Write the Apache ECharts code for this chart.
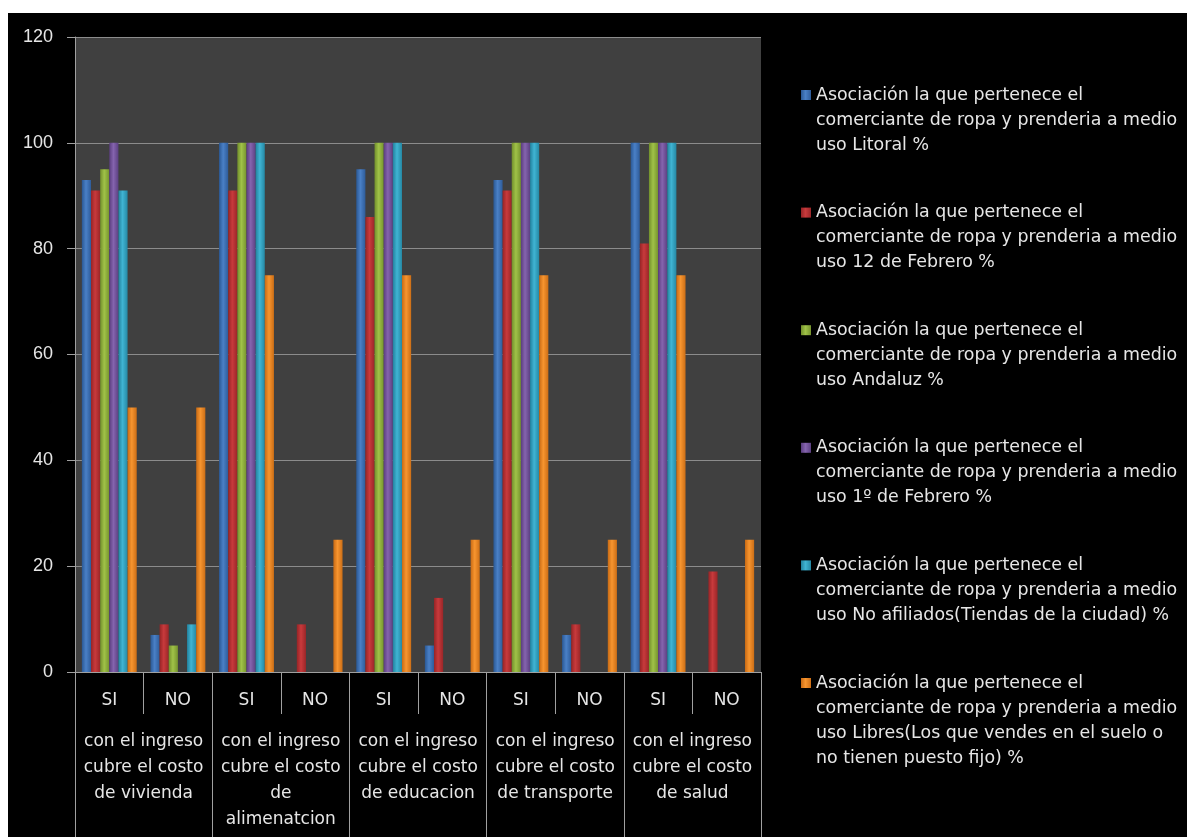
<!DOCTYPE html>
<html>
<head>
<meta charset="utf-8">
<script src="https://cdn.jsdelivr.net/npm/echarts@6/dist/echarts.min.js"></script>
<style>
html,body{margin:0;padding:0;background:#ffffff;width:1187px;height:837px;overflow:hidden;}
#chart{position:absolute;left:8px;top:13px;width:1179px;height:824px;}
</style>
</head>
<body>
<div id="chart"></div>
<script>
// ---- data ----
const subCategories = ['SI','NO','SI','NO','SI','NO','SI','NO','SI','NO'];
const groupLabels = [
  'con el ingreso\ncubre el costo\nde vivienda',
  'con el ingreso\ncubre el costo\nde\nalimenatcion',
  'con el ingreso\ncubre el costo\nde educacion',
  'con el ingreso\ncubre el costo\nde transporte',
  'con el ingreso\ncubre el costo\nde salud'
];
const seriesNames = [
  'Asociación la que pertenece el\ncomerciante de ropa y prenderia a medio\nuso Litoral %',
  'Asociación la que pertenece el\ncomerciante de ropa y prenderia a medio\nuso 12 de Febrero %',
  'Asociación la que pertenece el\ncomerciante de ropa y prenderia a medio\nuso Andaluz %',
  'Asociación la que pertenece el\ncomerciante de ropa y prenderia a medio\nuso 1º de Febrero %',
  'Asociación la que pertenece el\ncomerciante de ropa y prenderia a medio\nuso No afiliados(Tiendas de la ciudad) %',
  'Asociación la que pertenece el\ncomerciante de ropa y prenderia a medio\nuso Libres(Los que vendes en el suelo o\nno tienen puesto fijo) %'
];
const litoral     = [93, 7, 100, 0, 95, 5, 93, 7, 100, 0];
const febrero12   = [91, 9, 91, 9, 86, 14, 91, 9, 81, 19];
const andaluz     = [95, 5, 100, 0, 100, 0, 100, 0, 100, 0];
const febrero1    = [100, 0, 100, 0, 100, 0, 100, 0, 100, 0];
const noAfiliados = [91, 9, 100, 0, 100, 0, 100, 0, 100, 0];
const libres      = [50, 50, 75, 25, 75, 25, 75, 25, 75, 25];
const yTicks = { min: 0, max: 120, interval: 20 };

// ---- styles ----
const palettes = [
  ['#2a5894', '#4a80c6', '#2e5c9a'],
  ['#962426', '#c83a3c', '#9a2628'],
  ['#728f2c', '#a0c248', '#76942e'],
  ['#5a3d7e', '#8564ae', '#5c4082'],
  ['#22829e', '#40b4d3', '#2588a4'],
  ['#c86a14', '#f7952f', '#cc6e16']
];
function grad(p) {
  return new echarts.graphic.LinearGradient(0, 0, 1, 0, [
    { offset: 0, color: p[0] }, { offset: 0.45, color: p[1] }, { offset: 1, color: p[2] }
  ]);
}
const FONT = 'DejaVu Sans';
const TXT = '#e6e6e6';
const LH = 25;
const allData = [litoral, febrero12, andaluz, febrero1, noAfiliados, libres];
const iconCenters = [82, 199.6, 317.2, 434.8, 552.4, 670];

const chart = echarts.init(document.getElementById('chart'));
const legends = seriesNames.map(function (name, i) {
  const n = name.split('\n').length;
  return {
    orient: 'vertical',
    left: 793,
    top: iconCenters[i] - (2 * n - 1) * LH / 2,
    padding: 0,
    itemWidth: 10,
    itemHeight: 10,
    itemGap: 0,
    icon: 'rect',
    selectedMode: false,
    data: [name],
    formatter: function (nm) {
      return '\n'.repeat(n - 1) + nm;
    },
    textStyle: { color: TXT, fontFamily: FONT, fontSize: 17.4, lineHeight: LH }
  };
});

chart.setOption({
  backgroundColor: '#000000',
  animation: false,
  legend: legends,
  grid: {
    left: 67, right: 426, top: 24, bottom: 165,
    show: true, backgroundColor: '#404040', borderWidth: 0
  },
  xAxis: [
    {
      type: 'category', data: subCategories, position: 'bottom',
      axisLine: { show: true, lineStyle: { color: '#a0a0a0', width: 1 } },
      axisTick: { show: true, interval: 0, length: 42, lineStyle: { color: '#a0a0a0' } },
      axisLabel: { color: TXT, fontFamily: FONT, fontSize: 17, margin: 16, lineHeight: LH, interval: 0 },
      splitLine: { show: false }
    },
    {
      type: 'category', data: groupLabels, position: 'bottom',
      axisLine: { show: false },
      axisTick: { show: true, interval: 0, length: 170, lineStyle: { color: '#a0a0a0' } },
      axisLabel: { color: TXT, fontFamily: FONT, fontSize: 17, margin: 57, lineHeight: 26, interval: 0 },
      splitLine: { show: false }
    }
  ],
  yAxis: {
    type: 'value', min: yTicks.min, max: yTicks.max, interval: yTicks.interval,
    axisLine: { show: true, lineStyle: { color: '#a0a0a0' } },
    axisTick: { show: true, length: 8, lineStyle: { color: '#a0a0a0' } },
    axisLabel: { color: TXT, fontFamily: 'Liberation Sans', fontSize: 18, margin: 22 },
    splitLine: { show: true, lineStyle: { color: '#8c8c8c', width: 1 } }
  },
  series: allData.map(function (d, i) {
    return {
      name: seriesNames[i], type: 'bar', xAxisIndex: 0, data: d,
      barGap: '0%', barCategoryGap: '20%',
      itemStyle: { color: grad(palettes[i]) }
    };
  })
});
</script>
</body>
</html>
